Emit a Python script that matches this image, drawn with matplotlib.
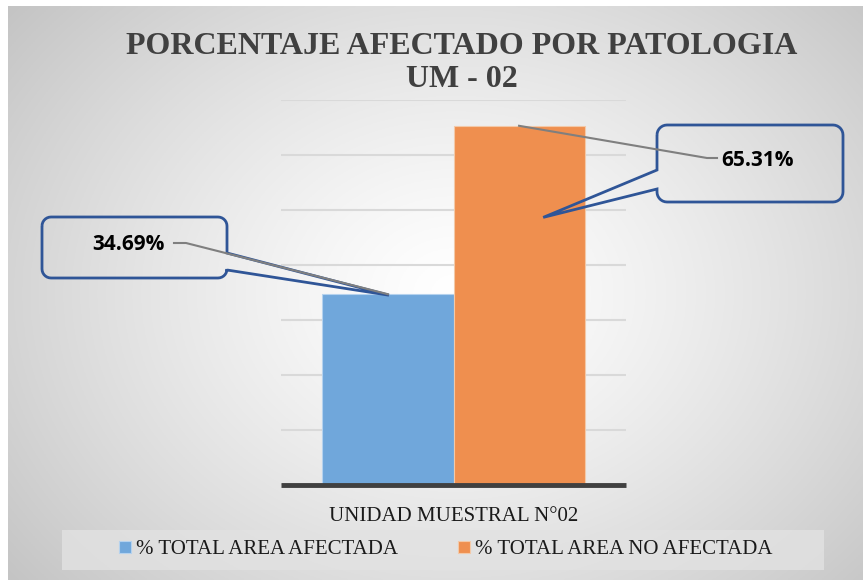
import matplotlib.pyplot as plt
import numpy as np
from matplotlib.path import Path
from matplotlib.patches import PathPatch, Rectangle

categoria = "UNIDAD MUESTRAL N°02"
series = ["% TOTAL AREA AFECTADA", "% TOTAL AREA NO AFECTADA"]
valores = [34.69, 65.31]
etiquetas = ["34.69%", "65.31%"]
colores = ["#70A7DB", "#EF8F4F"]
titulo = "PORCENTAJE AFECTADO POR PATOLOGIA\nUM - 02"

W, H = 863, 580
fig = plt.figure(figsize=(W / 100, H / 100), dpi=100)
fig.patch.set_facecolor("white")

# fondo con degradado radial
bg = fig.add_axes([8 / W, 0, 1 - 8 / W, 1 - 6 / H])
yy, xx = np.mgrid[0:300, 0:450]
cx, cy = 235, 150
r = np.sqrt(((xx - cx) / 330.0) ** 2 + ((yy - cy) / 260.0) ** 2)
g = np.clip(1.0 - 0.26 * r ** 1.3, 0.76, 1.0)
bg.imshow(np.dstack([g, g, g]), aspect="auto", extent=[0, 1, 0, 1])
bg.set_axis_off()

# capa en pixeles para anotaciones
ov = fig.add_axes([0, 0, 1, 1], zorder=5)
ov.set_xlim(0, W)
ov.set_ylim(H, 0)
ov.set_axis_off()
ov.patch.set_alpha(0)

# grafico
ax = fig.add_axes([281 / W, 1 - 485 / H, 345 / W, 385 / H], zorder=3)
ax.patch.set_alpha(0)
w = 0.38
xs = [-w / 2, w / 2]
for x, v, c, s in zip(xs, valores, colores, series):
    ax.bar(x, v, width=w, color=c, edgecolor="#F3C9A8" if c == colores[1] else "#B5D2EE",
           linewidth=0.8, label=s, zorder=2)
ax.set_xlim(-0.5, 0.5)
ax.set_ylim(0, 70)
ax.set_yticks(np.arange(0, 71, 10))
ax.yaxis.grid(True, color="#D9D9D9", linewidth=1.5, zorder=0)
ax.set_axisbelow(True)
ax.tick_params(left=False, labelleft=False, bottom=False)
ax.set_xticks([0])
ax.set_xticklabels([categoria], family="Liberation Serif", fontsize=15, color="#1a1a1a")
ax.tick_params(axis="x", pad=12)
for sp in ["top", "right", "left"]:
    ax.spines[sp].set_visible(False)
ax.spines["bottom"].set_color("#404040")
ax.spines["bottom"].set_linewidth(3.5)
ax.spines["bottom"].set_capstyle("butt")

fig.text(462 / W, 1 - 63 / H, titulo, ha="center", va="center", family="Liberation Serif",
         fontweight="bold", fontsize=23, color="#404040", linespacing=1.15)

# leyenda
ov.add_patch(Rectangle((62, 530), 762, 40, facecolor="#E2E2E2", edgecolor="none", alpha=0.8))
leg = fig.legend(loc="center", bbox_to_anchor=(446 / W, 1 - 550 / H), ncol=2, frameon=False,
                 prop={"family": "Liberation Serif", "size": 15}, handlelength=0.55,
                 handleheight=0.55, handletextpad=0.25, columnspacing=2.9)
for t in leg.get_texts():
    t.set_color("#1a1a1a")


def to_px(x, y):
    dx, dy = ax.transData.transform((x, y))
    return dx, H - dy


def callout(x0, y0, x1, y1, rad, side, a, b, tip):
    n = 8
    def arc(cx, cy, t0, t1):
        t = np.linspace(np.radians(t0), np.radians(t1), n)
        return [(cx + rad * np.cos(tt), cy + rad * np.sin(tt)) for tt in t]
    pts = []
    pts += arc(x0 + rad, y0 + rad, 180, 270)
    pts += arc(x1 - rad, y0 + rad, 270, 360)
    if side == "right":
        pts += [(x1, a), tip, (x1, b)]
    pts += arc(x1 - rad, y1 - rad, 0, 90)
    pts += arc(x0 + rad, y1 - rad, 90, 180)
    if side == "left":
        pts += [(x0, b), tip, (x0, a)]
    pts.append(pts[0])
    ov.add_patch(PathPatch(Path(pts), facecolor="none", edgecolor="#2F5597", linewidth=2.0,
                           joinstyle="miter"))


# etiqueta izquierda
bx, by = to_px(xs[0], valores[0])
ov.plot([bx, 186, 174], [by, 243, 243], color="#7F7F7F", lw=1.5)
callout(42, 217, 227, 278, 9, "right", 253, 270, (bx + 1, by + 1))
ov.text(128, 245, etiquetas[0], ha="center", va="center", family="Open Sans",
        fontweight="bold", fontsize=15, color="black")

# etiqueta derecha
bx, by = to_px(xs[1], valores[1])
ov.plot([bx, 707, 717], [by, 158, 158], color="#7F7F7F", lw=1.5)
tx, ty = to_px(xs[1] + 0.07, valores[1] * 0.745)
callout(657, 125, 843, 202, 10, "left", 170, 189, (tx, ty))
ov.text(757, 160, etiquetas[1], ha="center", va="center", family="Open Sans",
        fontweight="bold", fontsize=15, color="black")

fig.savefig("out.png", dpi=100)
